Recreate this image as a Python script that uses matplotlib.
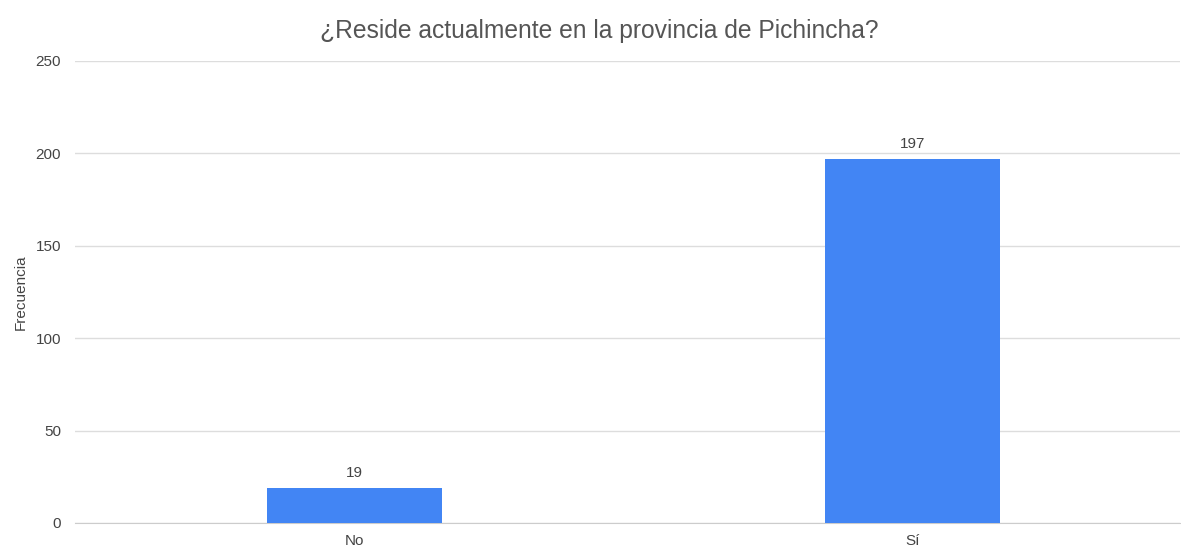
import matplotlib.pyplot as plt

plt.rcParams['font.family'] = ['Liberation Sans', 'DejaVu Sans']

# Data
categories = ["No", "Sí"]
values = [19, 197]

fig = plt.figure(figsize=(11.81, 5.54), dpi=100)
ax = fig.add_axes([75 / 1181, 1 - 523 / 554, 1105 / 1181, 462 / 554])

x = list(range(len(categories)))
bars = ax.bar(x, values, width=0.314, color="#4285F4", zorder=3)

for xi, v in zip(x, values):
    ax.annotate(str(v), (xi, v), xytext=(0, 6), textcoords="offset points",
                ha="center", va="bottom", fontsize=11, color="#444444")

ax.set_xlim(-0.501, 1.48)
ax.set_ylim(0, 250)
ax.set_yticks([0, 50, 100, 150, 200, 250])
ax.set_xticks(x)
ax.set_xticklabels(categories)

ax.grid(axis="y", color="#dddddd", linewidth=1, zorder=0)
for s in ["top", "right", "left"]:
    ax.spines[s].set_visible(False)
ax.spines["bottom"].set_color("#cccccc")
ax.tick_params(axis="both", length=0, labelsize=11, labelcolor="#444444")
ax.tick_params(axis="y", pad=10)
ax.tick_params(axis="x", pad=8)

ax.set_ylabel("Frecuencia", fontsize=11, color="#444444", labelpad=6)
fig.text(0.507, 1 - 31 / 554, "¿Reside actualmente en la provincia de Pichincha?",
         fontsize=17.7, color="#555555", ha="center", va="center")

fig.savefig("out.png", dpi=100)
